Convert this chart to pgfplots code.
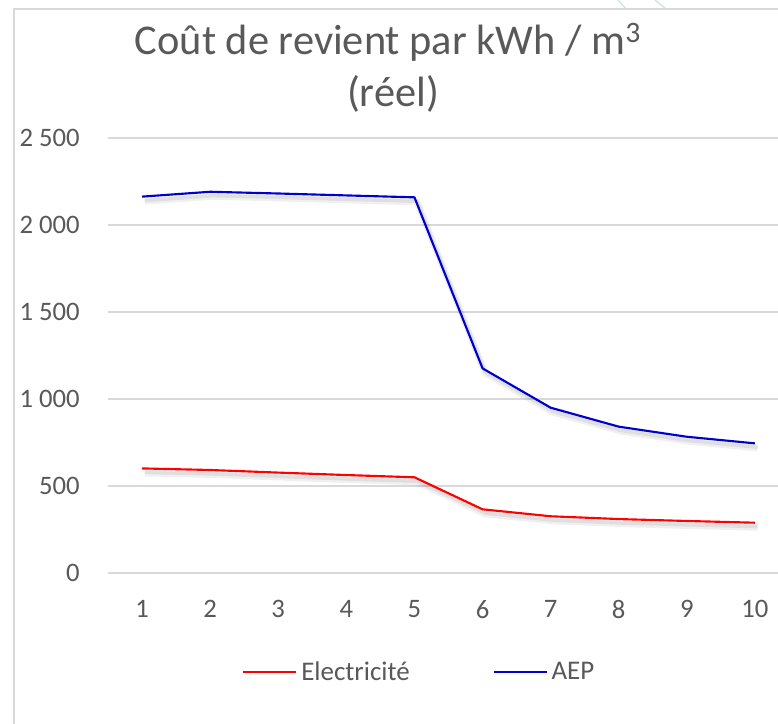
\documentclass[border=0pt]{standalone}
\usepackage{pgfplots}
\pgfplotsset{compat=1.18}
\usepackage{fontspec}
\setmainfont{Carlito}
\definecolor{txt}{HTML}{595959}
\definecolor{gridc}{HTML}{D9D9D9}
\definecolor{aep}{RGB}{0,0,204}
\definecolor{elec}{RGB}{255,0,0}
\definecolor{deco}{HTML}{CFE3EE}
\begin{document}
\begin{tikzpicture}[x=0.75pt,y=0.75pt]
\useasboundingbox (0,0) rectangle (778,724);
\clip (0,0) rectangle (778,724);
\fill[white] (0,0) rectangle (778,724);
\draw[deco, line width=1pt] (618,724) -- (626,715);
\draw[deco, line width=1pt] (655,724) -- (666,715);
\draw[gridc, line width=1.1pt] (14,-20) -- (14,715) -- (800,715);
\node[txt, font=\fontsize{31.8}{38}\selectfont, anchor=base, inner sep=0pt] at (388,669) {Coût de revient par kWh / m\textsuperscript{3}};
\node[txt, font=\fontsize{31.8}{38}\selectfont, anchor=base, inner sep=0pt] at (393,617) {(réel)};
\begin{axis}[
  at={(81pt,113.25pt)}, anchor=south west,
  scale only axis, width=510.75pt, height=326.25pt,
  xmin=0.5, xmax=10.5, ymin=0, ymax=2500,
  axis line style={draw=none},
  major tick length=0pt,
  xtick={1,2,...,10}, ytick={0,500,...,2500},
  ymajorgrids, grid style={gridc, line width=0.9pt},
  tick label style={txt, font=\fontsize{20}{24}\selectfont},
  /pgf/number format/assume math mode=true,
  /pgf/number format/1000 sep={\ },
  yticklabel style={anchor=east, inner sep=0pt, xshift=-21pt},
  xticklabel style={anchor=north, inner sep=0pt, yshift=-20.25pt},
  clip=false,
  legend columns=2,
  legend style={at={(0.1967,-0.2276)}, anchor=west, draw=none, fill=none, inner sep=0pt,
    font=\fontsize{20.2}{24}\selectfont, text=txt,
    /tikz/every even column/.append style={column sep=59pt},
    nodes={inner sep=3pt}},
  legend image code/.code={\draw[#1] (0pt,0pt) -- (39.75pt,0pt);},
]
% shadows
\addplot[forget plot, black, opacity=0.06, line width=5pt, xshift=2pt, yshift=-3.5pt] coordinates {(1,601) (2,592) (3,577) (4,563) (5,550) (6,366) (7,326) (8,310) (9,299) (10,289)};
\addplot[forget plot, black, opacity=0.07, line width=2.5pt, xshift=2pt, yshift=-3pt] coordinates {(1,601) (2,592) (3,577) (4,563) (5,550) (6,366) (7,326) (8,310) (9,299) (10,289)};
\addplot[forget plot, black, opacity=0.06, line width=5pt, xshift=2pt, yshift=-3.5pt] coordinates {(1,2163) (2,2191) (3,2181) (4,2170) (5,2159) (6,1176) (7,950) (8,841) (9,783) (10,745)};
\addplot[forget plot, black, opacity=0.07, line width=2.5pt, xshift=2pt, yshift=-3pt] coordinates {(1,2163) (2,2191) (3,2181) (4,2170) (5,2159) (6,1176) (7,950) (8,841) (9,783) (10,745)};
% series
\addplot[elec, line width=1.6pt, line join=round] coordinates {(1,601) (2,592) (3,577) (4,563) (5,550) (6,366) (7,326) (8,310) (9,299) (10,289)};
\addlegendentry{Electricité}
\addplot[aep, line width=1.6pt, line join=round] coordinates {(1,2163) (2,2191) (3,2181) (4,2170) (5,2159) (6,1176) (7,950) (8,841) (9,783) (10,745)};
\addlegendentry{AEP}
\end{axis}
\end{tikzpicture}
\end{document}
